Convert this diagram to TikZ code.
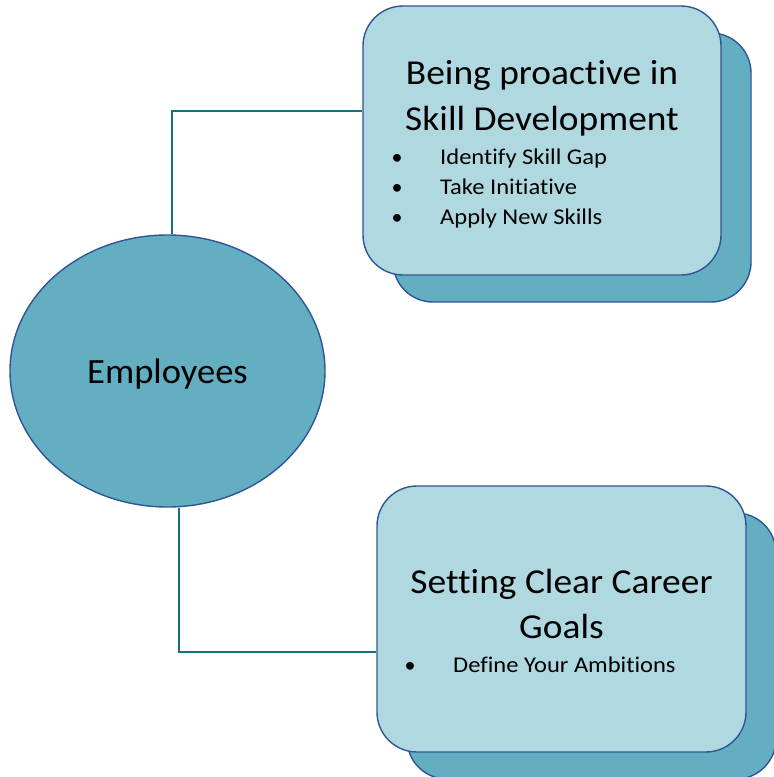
\documentclass[tikz,border=0pt]{standalone}
\usepackage{fontspec}
\setmainfont{Carlito}[Ligatures=NoCommon]
\newfontfamily\titlefont{Carlito}[Ligatures=NoCommon, FakeStretch=1.07]
\newfontfamily\itemfont{Carlito}[Ligatures=NoCommon, FakeStretch=1.09]
\newfontfamily\empfont{Carlito}[Ligatures=NoCommon, FakeStretch=1.03]
\usetikzlibrary{shapes.geometric}
\definecolor{ellfill}{HTML}{63AFC1}
\definecolor{boxfill}{HTML}{B0D8E0}
\definecolor{edge}{HTML}{2F5597}
\definecolor{conn}{HTML}{16717F}
\tikzset{
  shapeedge/.style={draw=edge, line width=1.4pt},
  frontbox/.style={shapeedge, fill=boxfill, rounded corners=40pt, inner sep=0pt},
  backbox/.style={shapeedge, fill=ellfill, rounded corners=40pt, inner sep=0pt},
  connline/.style={draw=conn, line width=1.3pt},
  titletext/.style={anchor=base, inner sep=0pt, font=\titlefont\fontsize{35}{44}\selectfont},
  itemtext/.style={anchor=base west, inner sep=0pt, font=\itemfont\fontsize{22.5}{28}\selectfont},
  bullettext/.style={anchor=base, inner sep=0pt, font=\fontsize{22}{28}\selectfont},
}
\begin{document}
\begin{tikzpicture}[x=1pt,y=-1pt]
\useasboundingbox (0,0) rectangle (774,777);
% shapes
\node[backbox, minimum width=358pt, minimum height=269pt] (top2) at (572,167.5) {};
\node[frontbox, minimum width=358pt, minimum height=269pt] (top1) at (542,140.5) {};
\node[backbox, minimum width=369pt, minimum height=266pt] (bot2) at (591.5,646) {};
\node[frontbox, minimum width=369pt, minimum height=266pt] (bot1) at (561.5,619) {};
\node[shapeedge, fill=ellfill, ellipse, minimum width=315pt, minimum height=272pt, inner sep=0pt] (ell) at (167.5,371) {};
% connectors
\draw[connline] ([xshift=4.5pt]ell.north) |- ([yshift=29.5pt]top1.west);
\draw[connline] ([xshift=11.5pt]ell.south) |- ([yshift=-33pt]bot1.west);
\node[anchor=base, inner sep=0pt, font=\empfont\fontsize{35.5}{44}\selectfont] (emp) at (167.5,383.5) {Employees};
% top box text
\node[titletext] (t1a) at (542,84) {Being proactive in};
\node[titletext] (t1b) at (542,130) {Skill Development};
\node[bullettext] (b1) at (397,164.5) {•};
\node[itemtext] (i1) at (440,164.5) {Identify Skill Gap};
\node[bullettext] (b2) at (397,194.5) {•};
\node[itemtext] (i2) at (440,194.5) {Take Initiative};
\node[bullettext] (b3) at (397,224.5) {•};
\node[itemtext] (i3) at (440,224.5) {Apply New Skills};
% bottom box text
\node[titletext] (t2a) at (561.5,593) {Setting Clear Career};
\node[titletext] (t2b) at (561.5,638) {Goals};
\node[bullettext] (b4) at (410,672.5) {•};
\node[itemtext] (i4) at (453,672.5) {Define Your Ambitions};
\end{tikzpicture}
\end{document}
